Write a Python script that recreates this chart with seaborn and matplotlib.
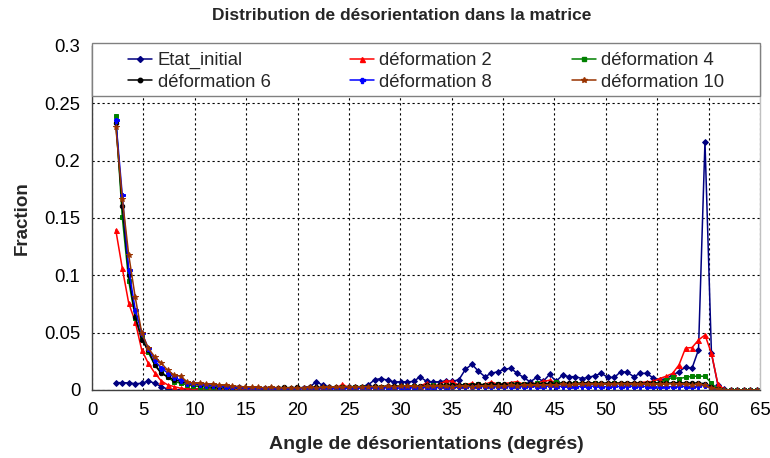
import numpy as np
import pandas as pd
import matplotlib
matplotlib.use("Agg")
import matplotlib.pyplot as plt
from matplotlib.lines import Line2D
from matplotlib.patches import Rectangle
from matplotlib.ticker import FuncFormatter
import seaborn as sns

# Misorientation bins: 100 bins of 0.63° from 2° to 65°, values at bin centres
bin_edges = np.linspace(2.0, 65.0, 101)
angles = (bin_edges[:-1] + bin_edges[1:]) / 2

series_names = ["Etat_initial", "déformation 2", "déformation 4",
                "déformation 6", "déformation 8", "déformation 10"]

etat_initial = [
    0.0064, 0.0064, 0.0062, 0.0055, 0.0058, 0.0078, 0.0060, 0.0030, 0.0008, 0.0003,
    0.0002, 0.0005, 0.0010, 0.0012, 0.0008, 0.0010, 0.0013, 0.0010, 0.0008, 0.0010,
    0.0012, 0.0010, 0.0008, 0.0010, 0.0015, 0.0012, 0.0010, 0.0012, 0.0015, 0.0020,
    0.0030, 0.0072, 0.0040, 0.0025, 0.0020, 0.0025, 0.0022, 0.0028, 0.0030, 0.0045,
    0.0090, 0.0100, 0.0085, 0.0070, 0.0072, 0.0070, 0.0075, 0.0115, 0.0075, 0.0070,
    0.0072, 0.0080, 0.0075, 0.0090, 0.0180, 0.0224, 0.0165, 0.0116, 0.0145, 0.0160,
    0.0180, 0.0190, 0.0145, 0.0110, 0.0070, 0.0110, 0.0075, 0.0136, 0.0075, 0.0130,
    0.0116, 0.0116, 0.0100, 0.0110, 0.0125, 0.0145, 0.0110, 0.0110, 0.0160, 0.0155,
    0.0116, 0.0145, 0.0145, 0.0105, 0.0087, 0.0100, 0.0130, 0.0160, 0.0200, 0.0190,
    0.0350, 0.2165, 0.0320, 0.0044, 0.0005, 0.0000, 0.0000, 0.0000, 0.0000, 0.0000,
]

deformation_2 = [
    0.1395, 0.1063, 0.0756, 0.0596, 0.0350, 0.0235, 0.0150, 0.0080, 0.0045, 0.0030,
    0.0015, 0.0010, 0.0008, 0.0010, 0.0005, 0.0008, 0.0010, 0.0006, 0.0008, 0.0005,
    0.0010, 0.0008, 0.0012, 0.0010, 0.0008, 0.0012, 0.0010, 0.0015, 0.0012, 0.0010,
    0.0015, 0.0012, 0.0010, 0.0020, 0.0015, 0.0050, 0.0020, 0.0015, 0.0020, 0.0025,
    0.0020, 0.0025, 0.0030, 0.0020, 0.0030, 0.0025, 0.0030, 0.0035, 0.0060, 0.0030,
    0.0050, 0.0080, 0.0075, 0.0040, 0.0045, 0.0060, 0.0045, 0.0050, 0.0070, 0.0050,
    0.0055, 0.0065, 0.0073, 0.0050, 0.0055, 0.0060, 0.0075, 0.0085, 0.0060, 0.0055,
    0.0060, 0.0055, 0.0060, 0.0065, 0.0060, 0.0055, 0.0060, 0.0065, 0.0060, 0.0065,
    0.0060, 0.0065, 0.0070, 0.0075, 0.0100, 0.0120, 0.0145, 0.0220, 0.0366, 0.0370,
    0.0436, 0.0480, 0.0320, 0.0050, 0.0005, 0.0000, 0.0000, 0.0000, 0.0000, 0.0000,
]

deformation_4 = [
    0.2390, 0.1510, 0.0950, 0.0630, 0.0470, 0.0330, 0.0220, 0.0160, 0.0110, 0.0073,
    0.0060, 0.0045, 0.0035, 0.0030, 0.0025, 0.0020, 0.0022, 0.0018, 0.0020, 0.0015,
    0.0015, 0.0012, 0.0015, 0.0012, 0.0010, 0.0012, 0.0015, 0.0012, 0.0015, 0.0012,
    0.0015, 0.0018, 0.0015, 0.0020, 0.0018, 0.0022, 0.0020, 0.0025, 0.0022, 0.0020,
    0.0025, 0.0030, 0.0025, 0.0030, 0.0035, 0.0030, 0.0035, 0.0030, 0.0035, 0.0040,
    0.0035, 0.0045, 0.0040, 0.0035, 0.0045, 0.0040, 0.0050, 0.0045, 0.0040, 0.0050,
    0.0045, 0.0050, 0.0055, 0.0050, 0.0045, 0.0060, 0.0055, 0.0050, 0.0073, 0.0055,
    0.0055, 0.0060, 0.0055, 0.0050, 0.0060, 0.0055, 0.0050, 0.0060, 0.0055, 0.0050,
    0.0045, 0.0050, 0.0055, 0.0060, 0.0065, 0.0090, 0.0110, 0.0100, 0.0110, 0.0120,
    0.0120, 0.0120, 0.0060, 0.0005, 0.0000, 0.0000, 0.0000, 0.0000, 0.0000, 0.0000,
]

deformation_6 = [
    0.2330, 0.1605, 0.1000, 0.0640, 0.0436, 0.0350, 0.0220, 0.0145, 0.0116, 0.0090,
    0.0075, 0.0060, 0.0050, 0.0045, 0.0040, 0.0035, 0.0030, 0.0028, 0.0025, 0.0022,
    0.0020, 0.0020, 0.0018, 0.0020, 0.0018, 0.0020, 0.0022, 0.0020, 0.0022, 0.0020,
    0.0022, 0.0025, 0.0022, 0.0025, 0.0028, 0.0025, 0.0028, 0.0030, 0.0028, 0.0030,
    0.0032, 0.0030, 0.0035, 0.0032, 0.0035, 0.0038, 0.0035, 0.0038, 0.0040, 0.0038,
    0.0040, 0.0042, 0.0040, 0.0045, 0.0042, 0.0045, 0.0048, 0.0045, 0.0050, 0.0048,
    0.0050, 0.0048, 0.0052, 0.0050, 0.0055, 0.0052, 0.0055, 0.0058, 0.0055, 0.0060,
    0.0058, 0.0060, 0.0058, 0.0062, 0.0060, 0.0058, 0.0062, 0.0060, 0.0058, 0.0062,
    0.0060, 0.0058, 0.0060, 0.0062, 0.0058, 0.0060, 0.0062, 0.0065, 0.0060, 0.0062,
    0.0060, 0.0055, 0.0030, 0.0005, 0.0000, 0.0000, 0.0000, 0.0000, 0.0000, 0.0000,
]

deformation_8 = [
    0.2355, 0.1700, 0.1050, 0.0700, 0.0500, 0.0366, 0.0260, 0.0190, 0.0150, 0.0110,
    0.0085, 0.0065, 0.0058, 0.0050, 0.0045, 0.0040, 0.0035, 0.0030, 0.0025, 0.0022,
    0.0018, 0.0015, 0.0012, 0.0015, 0.0012, 0.0010, 0.0012, 0.0010, 0.0012, 0.0015,
    0.0012, 0.0010, 0.0015, 0.0012, 0.0010, 0.0015, 0.0012, 0.0015, 0.0018, 0.0015,
    0.0018, 0.0015, 0.0020, 0.0018, 0.0015, 0.0020, 0.0018, 0.0022, 0.0020, 0.0018,
    0.0022, 0.0020, 0.0025, 0.0022, 0.0030, 0.0025, 0.0028, 0.0030, 0.0025, 0.0028,
    0.0030, 0.0028, 0.0025, 0.0030, 0.0032, 0.0028, 0.0030, 0.0035, 0.0030, 0.0032,
    0.0030, 0.0028, 0.0032, 0.0030, 0.0035, 0.0030, 0.0028, 0.0032, 0.0030, 0.0035,
    0.0030, 0.0032, 0.0030, 0.0028, 0.0025, 0.0030, 0.0028, 0.0032, 0.0030, 0.0025,
    0.0035, 0.0040, 0.0010, 0.0002, 0.0000, 0.0000, 0.0000, 0.0000, 0.0000, 0.0000,
]

deformation_10 = [
    0.2296, 0.1670, 0.1177, 0.0810, 0.0500, 0.0366, 0.0290, 0.0235, 0.0174, 0.0130,
    0.0120, 0.0073, 0.0058, 0.0058, 0.0055, 0.0050, 0.0045, 0.0040, 0.0035, 0.0030,
    0.0028, 0.0025, 0.0022, 0.0020, 0.0022, 0.0020, 0.0018, 0.0020, 0.0018, 0.0020,
    0.0022, 0.0020, 0.0022, 0.0025, 0.0022, 0.0025, 0.0028, 0.0025, 0.0028, 0.0030,
    0.0028, 0.0030, 0.0032, 0.0030, 0.0032, 0.0035, 0.0032, 0.0030, 0.0035, 0.0032,
    0.0035, 0.0032, 0.0030, 0.0035, 0.0032, 0.0030, 0.0035, 0.0032, 0.0035, 0.0038,
    0.0035, 0.0040, 0.0038, 0.0040, 0.0042, 0.0040, 0.0045, 0.0042, 0.0045, 0.0048,
    0.0045, 0.0050, 0.0048, 0.0052, 0.0050, 0.0048, 0.0052, 0.0050, 0.0055, 0.0052,
    0.0050, 0.0048, 0.0052, 0.0050, 0.0048, 0.0052, 0.0055, 0.0050, 0.0048, 0.0045,
    0.0050, 0.0040, 0.0015, 0.0005, 0.0002, 0.0001, 0.0001, 0.0001, 0.0001, 0.0001,
]

x_ticks = [0, 5, 10, 15, 20, 25, 30, 35, 40, 45, 50, 55, 60, 65]
y_ticks = [0, 0.05, 0.1, 0.15, 0.2, 0.25, 0.3]

colors = ["#000080", "#FF0000", "#008000", "#000000", "#0000FF", "#993300"]
marker_shapes = ["D", "^", "s", "o", "P", "*"]
marker_sizes = [3.0, 3.6, 3.2, 3.2, 3.6, 4.2]

all_values = [etat_initial, deformation_2, deformation_4,
              deformation_6, deformation_8, deformation_10]
df = pd.concat(
    [pd.DataFrame({"angle": angles, "fraction": vals, "serie": name})
     for name, vals in zip(series_names, all_values)],
    ignore_index=True,
)

sns.set_style("white")
plt.rcParams["font.family"] = ["Liberation Sans", "DejaVu Sans"]

fig = plt.figure(figsize=(7.7, 4.58), dpi=100)
ax = fig.add_axes([92 / 770, 68 / 458, 668 / 770, 344 / 458])

palette = dict(zip(series_names, colors))
markers = dict(zip(series_names, marker_shapes))

sns.lineplot(
    data=df, x="angle", y="fraction", hue="serie", style="serie",
    hue_order=series_names, style_order=series_names,
    palette=palette, markers=markers, dashes=False,
    markersize=3.4, linewidth=1.1, markeredgewidth=0.7, markeredgecolor="auto",
    estimator=None, errorbar=None, legend=False, ax=ax,
)
for line, ms in zip(ax.get_lines(), marker_sizes):
    line.set_markersize(ms)

ax.set_xlim(0, 65)
ax.set_ylim(0, 0.3)
ax.set_xticks(x_ticks)
ax.set_yticks(y_ticks)
ax.yaxis.set_major_formatter(FuncFormatter(lambda v, _: f"{v:g}"))
ax.grid(True, color="#000000", linestyle=(0, (2, 2.5)), linewidth=0.8)
ax.set_axisbelow(True)

for side in ("left", "bottom"):
    ax.spines[side].set_color("#404040")
    ax.spines[side].set_linewidth(1.0)
for side in ("top", "right"):
    ax.spines[side].set_color("#c0c0c0")
    ax.spines[side].set_linewidth(1.0)

ax.tick_params(axis="both", direction="out", length=5, width=1,
               color="#404040", labelsize=13.3, labelcolor="black", pad=3.5)

ax.set_xlabel("Angle de désorientations (degrés)", fontsize=14, fontweight="bold")
ax.set_ylabel("Fraction", fontsize=13.5, fontweight="bold")
ax.xaxis.set_label_coords(0.5, -0.133)
ax.yaxis.set_label_coords(-0.092, 0.5)

fig.text(401.5 / 770, 1 - 16 / 458, "Distribution de désorientation dans la matrice",
         fontsize=12.5, fontweight="bold", ha="center", va="center")

# Legend box spanning the top of the plot area
box_bottom = (390 - 96) / 344
box_top = (390 - 43) / 344
ax.add_patch(Rectangle((0, box_bottom), 1, box_top - box_bottom,
                       transform=ax.transAxes, facecolor="white",
                       edgecolor="#808080", linewidth=1.0,
                       clip_on=False, zorder=5))

handles = [Line2D([], [], color=c, marker=m, markersize=ms, markeredgecolor=c,
                  linewidth=1.1)
           for c, m, ms in zip(colors, marker_shapes, marker_sizes)]
order = [0, 3, 1, 4, 2, 5]
leg = ax.legend([handles[i] for i in order], [series_names[i] for i in order],
                ncol=3, loc="upper left",
                bbox_to_anchor=((128 - 92) / 668, (390 - 52) / 344),
                frameon=False, borderaxespad=0, borderpad=0,
                fontsize=13.3, handlelength=1.3, handletextpad=0.3,
                columnspacing=4.3, labelspacing=0.25)
leg.set_zorder(6)

fig.savefig("out.png", dpi=100)
